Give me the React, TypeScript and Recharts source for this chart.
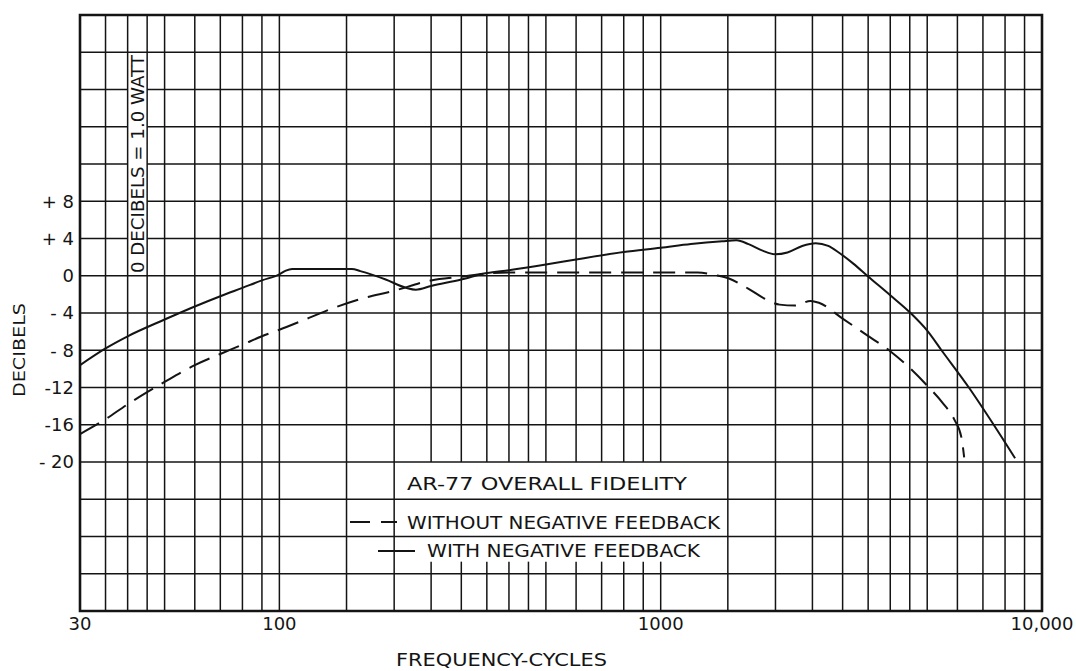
import React from 'react';
import { LineChart, Line, XAxis, YAxis, ReferenceArea, ReferenceLine } from 'recharts';

// ---------- data ----------
const xGridTicks = [30, 35, 40, 45, 50, 60, 70, 80, 90, 100, 150, 200, 250, 300, 350, 400, 450, 500, 600, 700, 800, 900, 1000, 1500, 2000, 2500, 3000, 3500, 4000, 4500, 5000, 6000, 7000, 8000, 9000, 10000];
const xTickLabels: Record<number, string> = { 30: '30', 100: '100', 1000: '1000', 10000: '10,000' };
const yGridTicks = [-36, -32, -28, -24, -20, -16, -12, -8, -4, 0, 4, 8, 12, 16, 20, 24, 28];
const yTickLabels: Record<number, string> = { 8: '+ 8', 4: '+ 4', 0: '0', [-4]: '- 4', [-8]: '- 8', [-12]: '-12', [-16]: '-16', [-20]: '- 20' };

// WITH NEGATIVE FEEDBACK (solid)
const withFreq = [30, 35, 40, 50, 60, 70, 80, 90, 100, 104, 108, 155, 163, 190, 215, 228, 250, 300, 350, 400, 500, 600, 800, 1000, 1200, 1450, 1580, 1700, 1850, 2000, 2150, 2350, 2550, 2750, 2930, 3200, 3480, 4000, 4520, 5000, 5450, 6430, 7470, 8500];
const withDb = [-9.6, -7.8, -6.5, -4.7, -3.3, -2.2, -1.3, -0.5, 0.15, 0.55, 0.72, 0.72, 0.5, -0.4, -1.3, -1.5, -1.1, -0.4, 0.3, 0.6, 1.2, 1.75, 2.55, 3.0, 3.4, 3.7, 3.8, 3.4, 2.7, 2.3, 2.5, 3.2, 3.5, 3.2, 2.5, 1.3, 0.0, -2.1, -4.0, -5.9, -8.0, -12.0, -16.0, -19.6];

// WITHOUT NEGATIVE FEEDBACK (dashed)
const withoutFreq = [30, 35, 40, 45, 50, 60, 70, 80, 90, 100, 120, 140, 160, 200, 250, 300, 350, 400, 600, 1000, 1250, 1400, 1510, 1700, 1880, 2050, 2250, 2470, 2600, 3000, 3450, 4000, 4500, 5000, 5500, 5900, 6150, 6250];
const withoutDb = [-17.0, -15.4, -13.8, -12.5, -11.4, -9.6, -8.4, -7.4, -6.5, -5.8, -4.5, -3.4, -2.6, -1.6, -0.5, -0.1, 0.25, 0.35, 0.35, 0.35, 0.35, 0.05, -0.3, -1.4, -2.5, -3.1, -3.2, -2.7, -2.9, -4.6, -6.3, -8.1, -9.9, -11.8, -13.7, -15.5, -17.4, -19.5];

// areas of the paper where the grid is left blank (note and legend lettering)
const noteBox = { f1: 40, f2: 45, db1: 0, db2: 24 };
const legendBox = { f1: 200, f2: 1500, db1: -30.7, db2: -20 };

const withData = withFreq.map((f, i) => ({ f, db: withDb[i] }));
const withoutData = withoutFreq.map((f, i) => ({ f, db: withoutDb[i] }));

const X_MIN = xGridTicks[0];
const X_MAX = xGridTicks[xGridTicks.length - 1];
const Y_MIN = yGridTicks[0];
const Y_MAX = yGridTicks[yGridTicks.length - 1];

type Seg = [{ x: number; y: number }, { x: number; y: number }];
const gridSegments: Seg[] = [];
xGridTicks.slice(1, -1).forEach((f) => {
  if (f > legendBox.f1 && f < legendBox.f2) {
    gridSegments.push([{ x: f, y: Y_MIN }, { x: f, y: legendBox.db1 }]);
    gridSegments.push([{ x: f, y: legendBox.db2 }, { x: f, y: Y_MAX }]);
  } else {
    gridSegments.push([{ x: f, y: Y_MIN }, { x: f, y: Y_MAX }]);
  }
});
yGridTicks.slice(1, -1).forEach((d) => {
  if (d > noteBox.db1 && d < noteBox.db2) {
    gridSegments.push([{ x: X_MIN, y: d }, { x: noteBox.f1, y: d }]);
    gridSegments.push([{ x: noteBox.f2, y: d }, { x: X_MAX, y: d }]);
  } else {
    gridSegments.push([{ x: X_MIN, y: d }, { x: X_MAX, y: d }]);
  }
});

// ---------- styles ----------
const INK = '#141414';
const FONT = "'DejaVu Sans', sans-serif";

const XTick = (props: any) => {
  const { x, y, payload } = props;
  const label = xTickLabels[payload.value];
  if (!label) return <g />;
  return (
    <text x={x} y={y + 19} textAnchor="middle" fontSize={18} fill={INK} fontFamily={FONT}>
      {label}
    </text>
  );
};

const YTick = (props: any) => {
  const { x, y, payload } = props;
  const label = yTickLabels[payload.value];
  if (!label) return <g />;
  return (
    <text x={x - 6} y={y} dy="0.36em" textAnchor="end" fontSize={18} fill={INK} fontFamily={FONT}>
      {label}
    </text>
  );
};

export default function App() {
  return (
    <div style={{ position: 'absolute', left: 0, top: 0, width: 1076, height: 671, background: '#fff' }}>
      <LineChart width={1076} height={671} margin={{ top: 15, right: 34, bottom: 30, left: 0 }}>
        <XAxis
          dataKey="f"
          type="number"
          scale="log"
          domain={[X_MIN, X_MAX]}
          ticks={xGridTicks}
          interval={0}
          tickSize={0}
          tickMargin={0}
          tickLine={false}
          axisLine={false}
          height={30}
          tick={<XTick />}
          allowDataOverflow
        />
        <YAxis
          type="number"
          domain={[Y_MIN, Y_MAX]}
          ticks={yGridTicks}
          interval={0}
          tickSize={0}
          tickMargin={0}
          tickLine={false}
          axisLine={false}
          width={80}
          tick={<YTick />}
          allowDataOverflow
        />
        {gridSegments.map((s, i) => (
          <ReferenceLine key={'g' + i} segment={s} stroke={INK} strokeWidth={1.5} />
        ))}
        {/* frame */}
        <ReferenceArea x1={X_MIN} x2={X_MAX} y1={Y_MIN} y2={Y_MAX} fill="none" fillOpacity={0} stroke={INK} strokeWidth={2.6} />
        <Line
          data={withoutData}
          dataKey="db"
          type="monotone"
          stroke={INK}
          strokeWidth={2}
          strokeDasharray="22 10"
          dot={false}
          activeDot={false}
          isAnimationActive={false}
        />
        <Line
          data={withData}
          dataKey="db"
          type="monotone"
          stroke={INK}
          strokeWidth={2}
          dot={false}
          activeDot={false}
          isAnimationActive={false}
        />
      </LineChart>
      <svg
        width={1076}
        height={671}
        style={{ position: 'absolute', left: 0, top: 0, pointerEvents: 'none' }}
        fontFamily={FONT}
        fill={INK}
      >
        <text transform="translate(143.5,164) rotate(-90)" textAnchor="middle" fontSize={17} textLength={218} lengthAdjust="spacingAndGlyphs">
          0 DECIBELS = 1.0 WATT
        </text>
        <text transform="translate(25,350) rotate(-90)" textAnchor="middle" fontSize={16} textLength={94} lengthAdjust="spacingAndGlyphs">
          DECIBELS
        </text>
        <text x={396} y={666} fontSize={17} textLength={211} lengthAdjust="spacingAndGlyphs">
          FREQUENCY-CYCLES
        </text>
        <text x={407} y={490} fontSize={17} textLength={280} lengthAdjust="spacingAndGlyphs">
          AR-77 OVERALL FIDELITY
        </text>
        <line x1={350} y1={522} x2={370} y2={522} stroke={INK} strokeWidth={2} />
        <line x1={381} y1={522} x2={397} y2={522} stroke={INK} strokeWidth={2} />
        <text x={407} y={529} fontSize={17} textLength={313} lengthAdjust="spacingAndGlyphs">
          WITHOUT NEGATIVE FEEDBACK
        </text>
        <line x1={378} y1={551} x2={415} y2={551} stroke={INK} strokeWidth={2} />
        <text x={427} y={557} fontSize={17} textLength={273} lengthAdjust="spacingAndGlyphs">
          WITH NEGATIVE FEEDBACK
        </text>
      </svg>
    </div>
  );
}
